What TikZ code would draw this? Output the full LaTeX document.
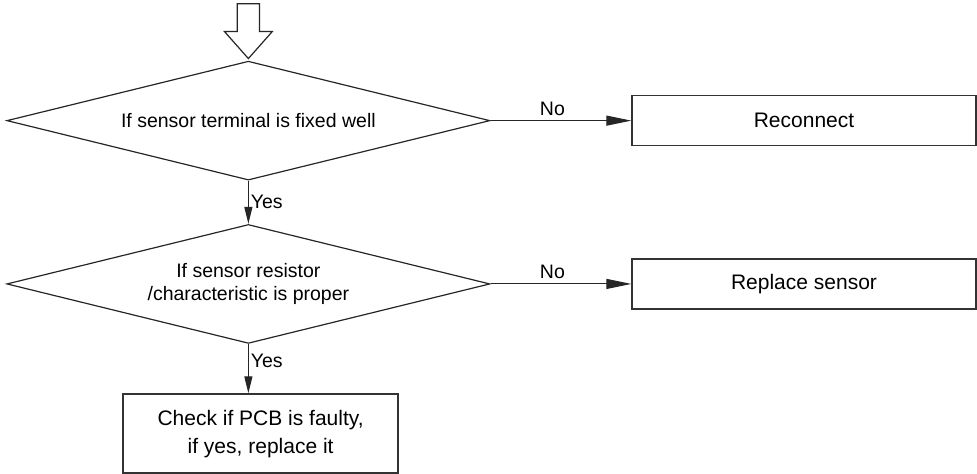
\documentclass[tikz,border=0pt]{standalone}
\usepackage{fontspec}
\setmainfont{Liberation Sans}
\usetikzlibrary{positioning, arrows.meta, calc, shapes.geometric}

\begin{document}
\begin{tikzpicture}[
  font=\fontsize{19.5}{23}\selectfont,
  check/.style={diamond, draw=black!85, line width=1.2pt, aspect=4.06, align=center,
    minimum width=16.98cm, minimum height=4.18cm, inner sep=0pt},
  action/.style={draw=black!80, line width=1.4pt, align=center,
    minimum width=12.09cm, minimum height=1.76cm, inner sep=3pt,
    font=\fontsize{21}{28}\selectfont},
  fixbox/.style={draw=black!80, line width=1.4pt, align=center,
    minimum width=9.67cm, minimum height=2.78cm, inner sep=3pt,
    font=\fontsize{21}{28}\selectfont},
  flow/.style={-{Triangle[length=17pt, width=8pt]}, line width=1.1pt, draw=black!85},
  side/.style={-{Triangle[length=25pt, width=10pt]}, line width=1.1pt, draw=black!85},
  hollow/.style={draw=black!85, line width=1.2pt, fill=white, line join=miter}
]
\useasboundingbox (0,0) rectangle (34.34,-16.66);

% decisions (left column)
\node[check] (d1) at (8.73,-4.24) {If sensor terminal is fixed well};
\node[check] (d2) at (8.73,-9.98) {If sensor resistor\\/characteristic is proper};

% actions
\node[action] (rc) at (28.26,-4.24) {Reconnect};
\node[action] (rs) at (28.26,-9.98) {Replace sensor};
\node[fixbox] (pcb) at (9.16,-15.24) {Check if PCB is faulty,\\if yes, replace it};

% entry arrow
\draw[hollow] (d1.north) ++(0,0.07) -- ++(-0.84,0.95) -- ++(0.45,0) -- ++(0,0.98)
  -- ++(0.78,0) -- ++(0,-0.98) -- ++(0.45,0) -- cycle;

\draw[side] (d1.east) -- (rc.west) node[midway, above=1pt, xshift=-0.3cm] {No};
\draw[side] (d2.east) -- (rs.west) node[midway, above=1pt, xshift=-0.3cm] {No};
\draw[flow] (d1.south) -- (d2.north) node[midway, right=0pt, inner sep=2pt] {Yes};
\draw[flow] (d2.south) -- (d2.south |- pcb.north) node[pos=0.35, right=0pt, inner sep=2pt] {Yes};

\end{tikzpicture}
\end{document}
